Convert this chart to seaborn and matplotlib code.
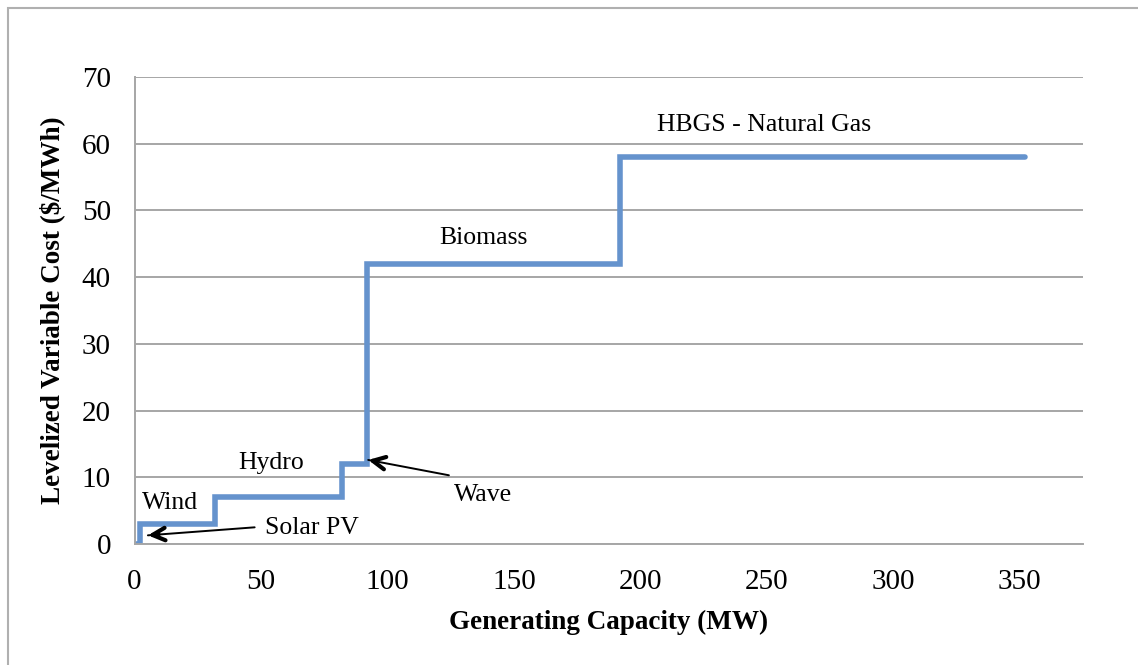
import matplotlib
matplotlib.use('Agg')
import matplotlib.pyplot as plt
import seaborn as sns
import pandas as pd

# Supply curve data (cumulative capacity in MW, cost in $/MWh)
capacity = [0, 2, 32, 82, 92, 192, 352]
cost = [0, 3, 7, 12, 42, 58, 58]

labels = ['Wind', 'Hydro', 'Biomass', 'HBGS - Natural Gas']
label_x = [3, 54, 138, 249]
label_y = [6.1, 12.1, 45.9, 62.8]

arrow_labels = ['Solar PV', 'Wave']
arrow_text_xy = [(51.5, 2.4), (126.5, 7.4)]
arrow_head_xy = [(5.3, 1.3), (92.4, 12.6)]
arrow_tail_xy = [(47.5, 2.5), (124.3, 10.3)]

x_ticks = [0, 50, 100, 150, 200, 250, 300, 350]
y_ticks = [0, 10, 20, 30, 40, 50, 60, 70]

sns.set_style('white')
plt.rcParams['font.family'] = ['Liberation Serif', 'DejaVu Serif']
plt.rcParams['text.color'] = 'black'
plt.rcParams['axes.labelcolor'] = 'black'
plt.rcParams['xtick.labelcolor'] = 'black'
plt.rcParams['ytick.labelcolor'] = 'black'

df = pd.DataFrame({'capacity': capacity, 'cost': cost})

fig = plt.figure(figsize=(11.38, 6.65), dpi=100)
ax = fig.add_axes([134.5 / 1138, 1 - 544 / 665, (1083 - 134.5) / 1138, (544 - 77) / 665])

# outer frame like the pasted excel chart
frame = plt.Rectangle((8 / 1138, -0.05), 1.1, 1.05 - 8 / 665, transform=fig.transFigure,
                      fill=False, edgecolor='#b0b0b0', linewidth=1.5)
fig.patches.append(frame)

sns.lineplot(data=df, x='capacity', y='cost', drawstyle='steps-post', color='#6593cd',
             linewidth=4, ax=ax, solid_capstyle='round', solid_joinstyle='miter')

ax.set_xlim(0, 375)
ax.set_ylim(0, 70)
ax.set_xticks(x_ticks)
ax.set_yticks(y_ticks)
ax.yaxis.grid(True, color='#a6a6a6', linewidth=1.4)
ax.set_axisbelow(True)
for side in ['top', 'right']:
    ax.spines[side].set_visible(False)
for side in ['left', 'bottom']:
    ax.spines[side].set_color('#a6a6a6')
    ax.spines[side].set_linewidth(1.4)
ax.tick_params(axis='both', direction='out', length=6, width=1.4, color='#a6a6a6',
               labelsize=21)
ax.tick_params(axis='y', length=7, pad=10)
ax.tick_params(axis='x', pad=12)
ax.set_xlabel('Generating Capacity (MW)', fontsize=19.5, fontweight='bold', labelpad=11)
ax.set_ylabel('Levelized Variable Cost ($/MWh)', fontsize=19.5, fontweight='bold', labelpad=12)

for txt, x, y in zip(labels, label_x, label_y):
    ha = 'left' if txt == 'Wind' else 'center'
    ax.text(x, y, txt, fontsize=18.5, ha=ha, va='center')

for txt, t, h, tail in zip(arrow_labels, arrow_text_xy, arrow_head_xy, arrow_tail_xy):
    ax.text(t[0], t[1], txt, fontsize=18.5, ha='left', va='center')
    # thin shaft
    ax.annotate('', xy=h, xytext=tail,
                arrowprops=dict(arrowstyle='-', color='black', linewidth=1.4,
                                shrinkA=0, shrinkB=0))
    # heavy arrow head
    hx = h[0] + (tail[0] - h[0]) * 0.1
    hy = h[1] + (tail[1] - h[1]) * 0.1
    ax.annotate('', xy=h, xytext=(hx, hy),
                arrowprops=dict(arrowstyle='->,head_length=0.9,head_width=0.45', color='black',
                                linewidth=3, shrinkA=0, shrinkB=0))

fig.savefig('out.png', dpi=100)
